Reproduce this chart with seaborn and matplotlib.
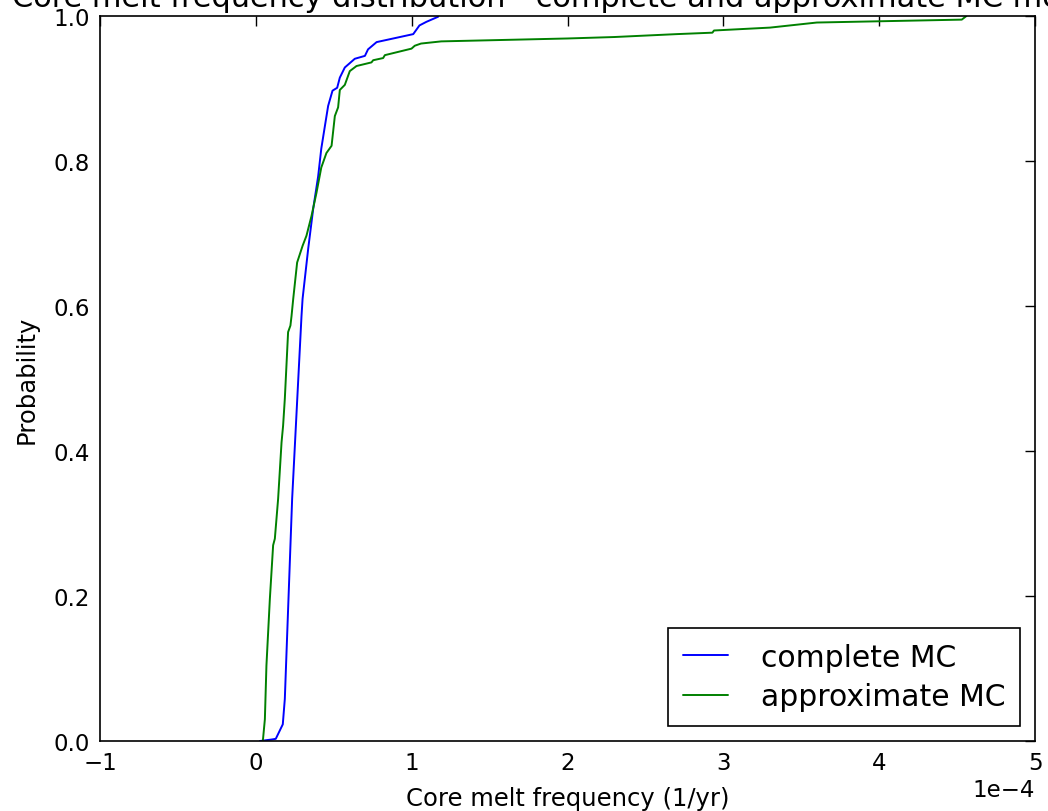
import pandas as pd
import seaborn as sns
import matplotlib
matplotlib.use("Agg")
import matplotlib.pyplot as plt

# values (x in units of 1e-4 per year)
complete_x = [0.026, 0.10, 0.128, 0.173, 0.186, 0.233, 0.293, 0.30, 0.336, 0.368, 0.40, 0.42,
              0.443, 0.464, 0.492, 0.522, 0.539, 0.571, 0.635, 0.70, 0.72, 0.775, 1.01,
              1.05, 1.095, 1.17]
complete_p = [0.0, 0.002, 0.003, 0.023, 0.058, 0.334, 0.586, 0.61, 0.679, 0.734, 0.779, 0.817,
              0.848, 0.876, 0.897, 0.901, 0.915, 0.929, 0.941, 0.945, 0.954, 0.964, 0.975,
              0.987, 0.992, 0.999]

approx_x = [0.045, 0.058, 0.068, 0.09, 0.111, 0.122, 0.143, 0.165, 0.175, 0.186, 0.207, 0.222,
            0.229, 0.24, 0.265, 0.30, 0.325, 0.357, 0.389, 0.42, 0.453, 0.486, 0.507, 0.528,
            0.539, 0.571, 0.603, 0.646, 0.742, 0.753, 0.817, 0.828, 0.999, 1.02, 1.06, 1.19,
            2.0, 2.3, 2.7, 2.93, 2.94, 3.3, 3.6, 4.53, 4.56]
approx_p = [0.0, 0.03, 0.104, 0.196, 0.27, 0.279, 0.334, 0.412, 0.435, 0.472, 0.564, 0.573,
            0.586, 0.61, 0.66, 0.683, 0.697, 0.724, 0.756, 0.791, 0.811, 0.821, 0.862, 0.874,
            0.898, 0.905, 0.924, 0.931, 0.936, 0.939, 0.942, 0.946, 0.955, 0.959, 0.962, 0.965,
            0.969, 0.971, 0.975, 0.977, 0.980, 0.984, 0.991, 0.995, 1.0]

labels = ["complete MC", "approximate MC"]

# long table for seaborn
myDF = pd.concat([
    pd.DataFrame({"cmf": [v * 1e-4 for v in complete_x], "prob": complete_p, "method": labels[0]}),
    pd.DataFrame({"cmf": [v * 1e-4 for v in approx_x], "prob": approx_p, "method": labels[1]}),
])

sns.set_style("white")
plt.rcParams["font.family"] = ["DejaVu Sans"]
# old matplotlib look: black text, black frame
for key in ["text.color", "axes.labelcolor", "xtick.color", "ytick.color", "axes.edgecolor"]:
    plt.rcParams[key] = "black"
plt.rcParams["axes.linewidth"] = 1.2

fig = plt.figure(figsize=(10.48, 8.12), dpi=100)
ax = fig.add_axes([100 / 1048, 70 / 812, 935 / 1048, 725 / 812])

sns.lineplot(data=myDF, x="cmf", y="prob", hue="method", palette={labels[0]: "b", labels[1]: "g"},
             sort=False, estimator=None, linewidth=1.4, ax=ax)

ax.set_xlim(-1e-4, 5e-4)
ax.set_ylim(0, 1)
ax.ticklabel_format(style="sci", axis="x", scilimits=(0, 0))
ax.tick_params(direction="in", top=True, right=True, length=7, width=1, labelsize=16.5, pad=7)
ax.xaxis.get_offset_text().set_fontsize(16.5)

ax.set_xlabel("Core melt frequency (1/yr)", fontsize=17.5, labelpad=9)
ax.set_ylabel("Probability", fontsize=17.5, labelpad=11)
ax.set_title("Core melt frequency distribution - complete and approximate MC models",
             fontsize=21.9, pad=7)

leg = ax.legend(loc="lower right", fontsize=21.5, fancybox=False, frameon=True,
                handlelength=1.5, handletextpad=1.1, labelspacing=0.35, borderpad=0.5,
                borderaxespad=0.5)
leg.get_frame().set_edgecolor("black")
leg.get_frame().set_linewidth(1.2)
leg.get_frame().set_alpha(1)
for line in leg.get_lines():
    line.set_linewidth(1.4)

fig.savefig("out.png", dpi=100)
